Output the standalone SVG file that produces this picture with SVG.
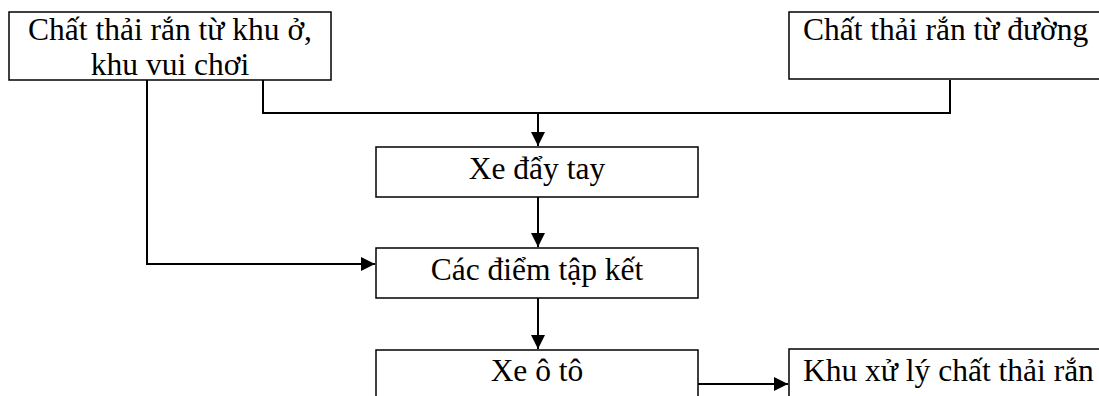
<svg xmlns="http://www.w3.org/2000/svg" width="1099" height="396" viewBox="0 0 1099 396">
  <style>
    .box { fill: #ffffff; stroke: #000000; stroke-width: 1.5; }
    .lbl { font-family: "Liberation Serif", "Times New Roman", serif; font-size: 31.5px; fill: #000000; }
    .mid { text-anchor: middle; }
    .wire { fill: none; stroke: #000000; stroke-width: 2; }
  </style>
  <defs>
    <marker id="arrow" viewBox="0 0 10 10" refX="10" refY="5" markerWidth="15" markerHeight="14" markerUnits="userSpaceOnUse" orient="auto">
      <path d="M0,0 L10,5 L0,10 z" fill="#000000"/>
    </marker>
  </defs>

  <g id="connectors">
    <!-- residential waste: down and across into collection points -->
    <polyline class="wire" points="147,80 147,264 375,264" marker-end="url(#arrow)"/>
    <!-- both sources merge into the handcart line -->
    <polyline class="wire" points="263,80 263,113 950,113 950,80"/>
    <line class="wire" x1="538" y1="113" x2="538" y2="146" marker-end="url(#arrow)"/>
    <line class="wire" x1="538" y1="197" x2="538" y2="247" marker-end="url(#arrow)"/>
    <line class="wire" x1="538" y1="298" x2="538" y2="349" marker-end="url(#arrow)"/>
    <line class="wire" x1="698" y1="384" x2="788" y2="384" marker-end="url(#arrow)"/>
  </g>

  <g id="src-residential">
    <rect class="box" x="9" y="12" width="322" height="68"/>
    <text class="lbl mid" x="170" y="40">Chất thải rắn từ khu ở,</text>
    <text class="lbl mid" x="170" y="75">khu vui chơi</text>
  </g>

  <g id="src-street">
    <rect class="box" x="789" y="12" width="320" height="67"/>
    <text class="lbl" x="803" y="40">Chất thải rắn từ đường</text>
  </g>

  <g id="handcart">
    <rect class="box" x="376" y="147" width="322" height="50"/>
    <text class="lbl mid" x="537" y="179">Xe đẩy tay</text>
  </g>

  <g id="collection-points">
    <rect class="box" x="376" y="248" width="322" height="50"/>
    <text class="lbl mid" x="537" y="280">Các điểm tập kết</text>
  </g>

  <g id="truck">
    <rect class="box" x="376" y="350" width="322" height="60"/>
    <text class="lbl mid" x="537" y="381">Xe ô tô</text>
  </g>

  <g id="treatment">
    <rect class="box" x="789" y="349" width="320" height="60"/>
    <text class="lbl" x="803" y="381">Khu xử lý chất thải rắn</text>
  </g>
</svg>
